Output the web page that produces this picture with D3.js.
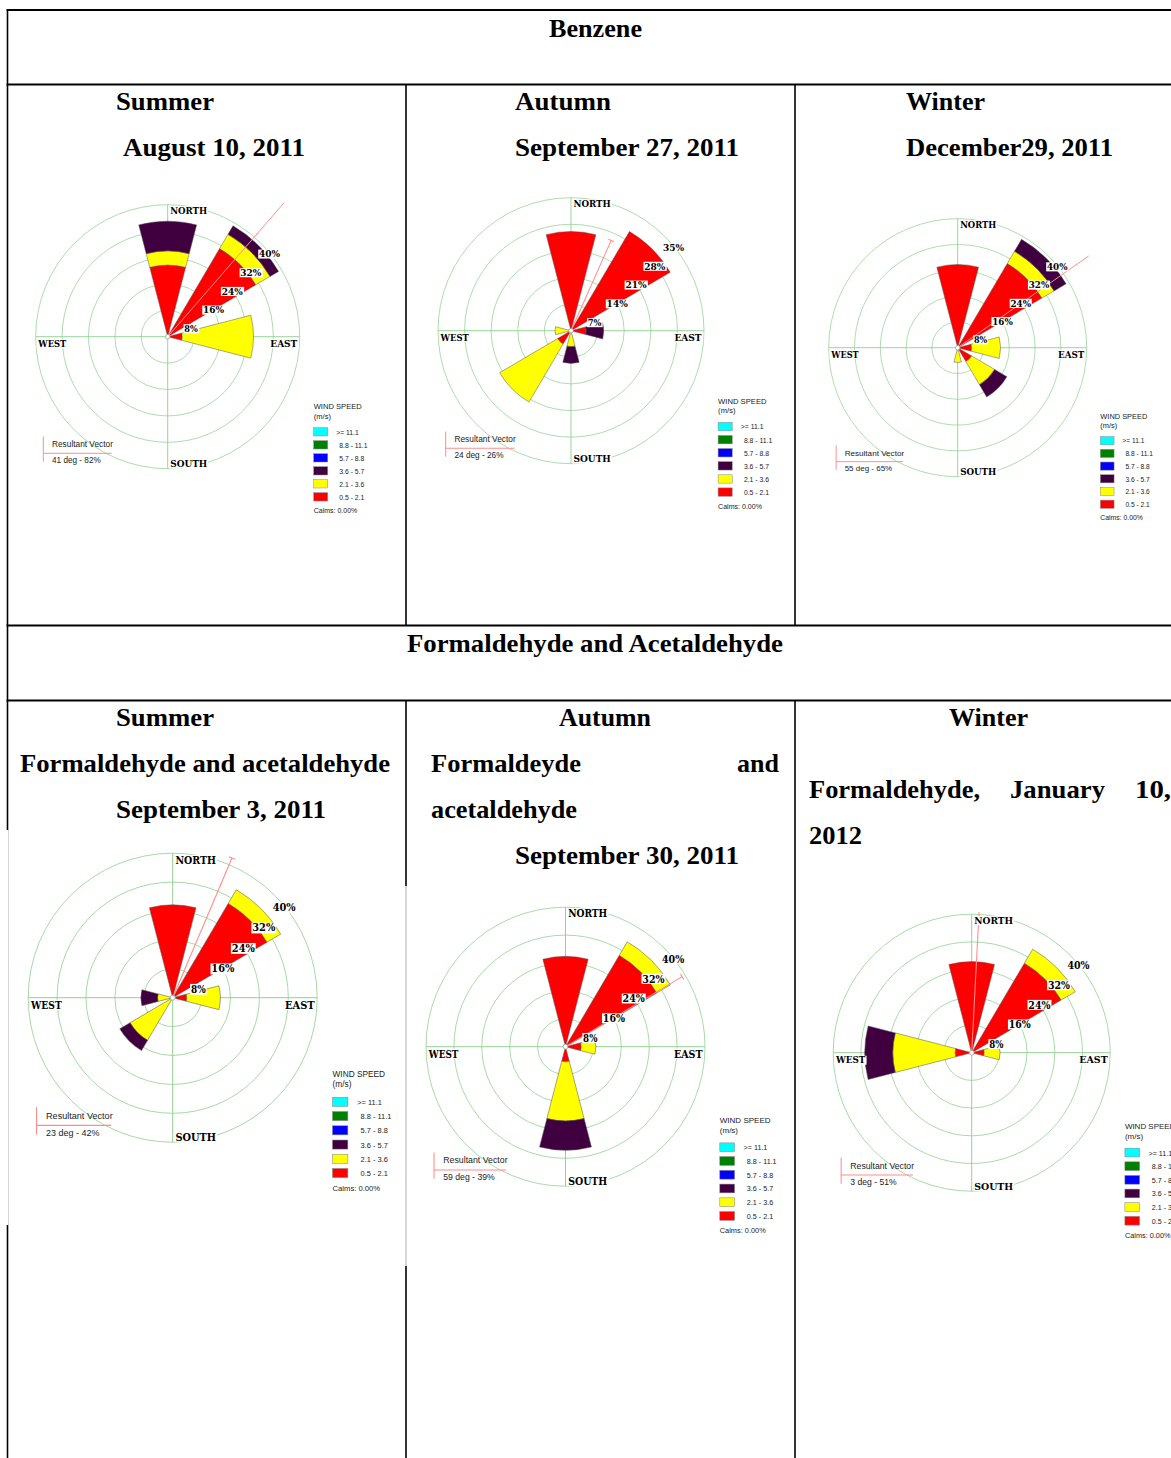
<!DOCTYPE html>
<html>
<head>
<meta charset="utf-8">
<script src="https://cdn.jsdelivr.net/npm/d3@7"></script>
<style>
  body { margin: 0; background: #fff; }
  svg { display: block; }
</style>
</head>
<body>
<svg id="page" width="1171" height="1458"></svg>
<script>
// 8 sectors, bearing clockwise from north
var directions = ["N", "NE", "E", "SE", "S", "SW", "W", "NW"];
var bearings = [0, 45, 90, 135, 180, 225, 270, 315];

// speed classes, slowest first (legend lists them fastest first)
var speedClasses = ["0.5 - 2.1", "2.1 - 3.6", "3.6 - 5.7", "5.7 - 8.8", "8.8 - 11.1", ">= 11.1"];
var speedColors = ["#ff0000", "#ffff00", "#400040", "#0000ff", "#008000", "#00ffff"];

// frequency % by class (rows 0.5-2.1, 2.1-3.6, 3.6-5.7) and direction (N..NW)
// the faster classes are 0 everywhere so they are left out
var benzAug10 = [
  [21.7, 31.0, 4.4, 0, 0, 0, 0, 0],
  [4.3, 5.0, 21.6, 0, 0, 0, 0, 0],
  [9.0, 3.0, 0, 0, 0, 0, 0, 0]
];
var benzSep27 = [
  [26.1, 30.3, 4.0, 0, 0, 4.1, 0, 0],
  [0, 0, 0, 0, 4.2, 17.7, 4.2, 0],
  [0, 0, 4.6, 0, 4.4, 0, 0, 0]
];
var benzDec29 = [
  [25.8, 30.3, 4.3, 5.0, 0, 0, 0, 0],
  [0, 4.4, 9.0, 8.3, 4.6, 0, 0, 0],
  [0, 4.3, 0, 4.4, 0, 0, 0, 0]
];
var aldSep03 = [
  [25.7, 30.3, 3.9, 0, 0, 0, 0, 0],
  [0, 4.4, 9.3, 0, 0, 13.7, 4.2, 0],
  [0, 0, 0, 0, 0, 3.3, 4.6, 0]
];
var aldSep30 = [
  [25.9, 30.4, 4.5, 0, 4.3, 0, 0, 0],
  [0, 4.5, 4.2, 0, 17.0, 0, 0, 0],
  [0, 0, 0, 0, 8.4, 0, 0, 0]
];
var aldJan10 = [
  [26.3, 30.0, 3.6, 0, 0, 0, 4.8, 0],
  [0, 4.7, 4.6, 0, 0, 0, 18.0, 0],
  [0, 0, 0, 0, 0, 0, 8.1, 0]
];

var roseData = [benzAug10, benzSep27, benzDec29, aldSep03, aldSep30, aldJan10];
var ringStep = [8, 7, 8, 8, 8, 8];        // % per ring, 5 rings
var resultDeg = [41, 24, 55, 23, 59, 3];
var resultPct = [82, 26, 65, 42, 39, 51];
var calms = [0, 0, 0, 0, 0, 0];

// where each pasted rose sits in the table (centre and outer ring radius)
var roseLayout = [
  { cx: 167.7, cy: 336.7, R: 132 },
  { cx: 571.0, cy: 330.7, R: 133 },
  { cx: 957.7, cy: 347.7, R: 129 },
  { cx: 172.7, cy: 997.7, R: 144.5 },
  { cx: 565.5, cy: 1046.7, R: 139.5 },
  { cx: 971.7, cy: 1052.7, R: 138.5 }
];

var R0 = 132;   // rose drawn at this radius then scaled
var svg = d3.select("#page");
svg.append("rect").attr("width", 1171).attr("height", 1458).attr("fill", "#fff");

drawTable();
roseData.forEach(function(d, i) {
  drawRose(i);
});

function drawTable() {
  var t = svg.append("g").attr("stroke", "#000");
  // horizontal rules
  [10, 84.5, 625.5, 700.5].forEach(function(y) {
    t.append("line").attr("x1", 6.5).attr("x2", 1171).attr("y1", y).attr("y2", y).attr("stroke-width", 2);
  });
  // left border, hidden where the summer image covers it
  t.append("line").attr("x1", 7.5).attr("x2", 7.5).attr("y1", 10).attr("y2", 830).attr("stroke-width", 1.6);
  t.append("line").attr("x1", 7.5).attr("x2", 7.5).attr("y1", 1225).attr("y2", 1458).attr("stroke-width", 1.6);
  t.append("line").attr("x1", 8.5).attr("x2", 8.5).attr("y1", 830).attr("y2", 1225).attr("stroke", "#ccc").attr("stroke-width", 0.8);
  [406, 795].forEach(function(x) {
    t.append("line").attr("x1", x).attr("x2", x).attr("y1", 85).attr("y2", 625).attr("stroke-width", 1.6);
  });
  t.append("line").attr("x1", 406).attr("x2", 406).attr("y1", 700).attr("y2", 886).attr("stroke-width", 1.6);
  t.append("line").attr("x1", 406).attr("x2", 406).attr("y1", 886).attr("y2", 1266).attr("stroke", "#999").attr("stroke-width", 0.8);
  t.append("line").attr("x1", 406).attr("x2", 406).attr("y1", 1266).attr("y2", 1458).attr("stroke-width", 1.6);
  t.append("line").attr("x1", 795).attr("x2", 795).attr("y1", 700).attr("y2", 1458).attr("stroke-width", 1.6);

  var heads = [
    ["Benzene", 549, 36.5, 93],
    ["Summer", 116, 110, 98],
    ["August 10, 2011", 123, 156, 182],
    ["Autumn", 515, 110, 96],
    ["September 27, 2011", 515, 156, 224],
    ["Winter", 906, 110, 79],
    ["December29, 2011", 906, 156, 207],
    ["Formaldehyde and Acetaldehyde", 407, 652, 376],
    ["Summer", 116, 726, 98],
    ["Formaldehyde and acetaldehyde", 20, 772, 370],
    ["September 3, 2011", 116, 817.5, 210],
    ["Autumn", 559, 726, 92],
    ["Formaldeyde", 431, 772, 150],
    ["and", 737, 772, 42],
    ["acetaldehyde", 431, 818, 146],
    ["September 30, 2011", 515, 863.5, 224],
    ["Winter", 949, 726, 79],
    ["Formaldehyde,", 809, 798, 171],
    ["January", 1010, 798, 95],
    ["10,", 1135, 798, 36],
    ["2012", 809, 844, 53]
  ];
  svg.append("g").selectAll("text").data(heads).join("text")
    .attr("x", function(d) { return d[1]; })
    .attr("y", function(d) { return d[2]; })
    .attr("textLength", function(d) { return d[3]; })
    .attr("lengthAdjust", "spacingAndGlyphs")
    .attr("font-family", "'Liberation Serif', 'Times New Roman', serif")
    .attr("font-weight", "bold")
    .attr("font-size", 25)
    .text(function(d) { return d[0]; });
}

function boxedText(g, txt, x, y, anchor, len, size) {
  var t = g.append("text")
    .attr("x", x).attr("y", y)
    .attr("text-anchor", anchor)
    .attr("font-family", "'DejaVu Serif', serif")
    .attr("font-weight", "bold")
    .attr("font-size", size)
    .attr("textLength", len)
    .attr("lengthAdjust", "spacingAndGlyphs")
    .text(txt);
  var bb = t.node().getBBox();
  g.insert("rect", function() { return t.node(); })
    .attr("x", bb.x - 0.8).attr("y", bb.y + 1.2)
    .attr("width", bb.width + 1.6).attr("height", bb.height - 2)
    .attr("fill", "#fff");
  return t;
}

function drawRose(i) {
  var L = roseLayout[i];
  var freq = roseData[i];
  var step = ringStep[i];
  var s = L.R / R0;
  var g = svg.append("g").attr("transform", "translate(" + L.cx + "," + L.cy + ") scale(" + s + ")");

  var clipId = "clip" + i;
  g.append("clipPath").attr("id", clipId)
    .append("rect").attr("x", -R0 - 2).attr("y", -R0 - 2).attr("width", 2 * R0 + 4).attr("height", 2 * R0 + 4);
  var rose = g.append("g").attr("clip-path", "url(#" + clipId + ")");

  var r = d3.scaleLinear().domain([0, step * 5]).range([0, R0]);
  var rings = d3.range(1, 6).map(function(k) { return k * step; });

  rose.selectAll("circle.ring").data(rings).join("circle")
    .attr("class", "ring")
    .attr("r", function(d) { return r(d); })
    .attr("fill", "none").attr("stroke", "#a3d9a3").attr("stroke-width", 0.9);
  rose.append("line").attr("x1", -R0).attr("x2", R0).attr("y1", 0).attr("y2", 0)
    .attr("stroke", "#8fcf8f").attr("stroke-width", 0.9);
  rose.append("line").attr("y1", -R0).attr("y2", R0).attr("x1", 0).attr("x2", 0)
    .attr("stroke", "#8fcf8f").attr("stroke-width", 0.9);

  // stacked wedges
  var half = 14.5 * Math.PI / 180;
  var arc = d3.arc();
  var segs = [];
  bearings.forEach(function(b, j) {
    var cum = 0;
    freq.forEach(function(row, k) {
      var v = row[j];
      if (v > 0) {
        segs.push({ a: b * Math.PI / 180, r0: cum, r1: cum + v, k: k });
        cum += v;
      }
    });
  });
  rose.selectAll("path.wedge").data(segs).join("path")
    .attr("class", "wedge")
    .attr("d", function(d) {
      return arc({ innerRadius: r(d.r0), outerRadius: r(d.r1), startAngle: d.a - half, endAngle: d.a + half });
    })
    .attr("fill", function(d) { return speedColors[d.k]; })
    .attr("stroke", "#555").attr("stroke-width", 0.5);

  // resultant vector
  var ang = resultDeg[i] * Math.PI / 180;
  var len = r(resultPct[i]);
  var ex = len * Math.sin(ang), ey = -len * Math.cos(ang);
  rose.append("line").attr("x1", 0).attr("y1", 0).attr("x2", ex).attr("y2", ey)
    .attr("stroke", "#ff8c8c").attr("stroke-width", 1);
  rose.append("line")
    .attr("x1", ex - 3 * Math.cos(ang)).attr("y1", ey - 3 * Math.sin(ang))
    .attr("x2", ex + 3 * Math.cos(ang)).attr("y2", ey + 3 * Math.sin(ang))
    .attr("stroke", "#ff8c8c").attr("stroke-width", 1);

  rose.append("circle").attr("r", 2.3).attr("fill", "#fff").attr("stroke", "#999").attr("stroke-width", 0.7);

  // compass labels
  boxedText(rose, "NORTH", 2.5, -122.5, "start", 37, 9.6);
  boxedText(rose, "SOUTH", 2.5, 130.7, "start", 37, 9.6);
  boxedText(rose, "WEST", -129.4, 10.3, "start", 28, 9.6);
  boxedText(rose, "EAST", 129.6, 10.3, "end", 27, 9.6);

  // ring percentages along the NE diagonal
  rings.forEach(function(p) {
    var q = r(p) * Math.SQRT1_2;
    var txt = p + "%";
    boxedText(rose, txt, q - 2, -q + 14, "start", txt.length > 2 ? 21 : 13.5, 9.8);
  });

  // wind speed legend
  var lg = g.append("g").attr("font-family", "'Liberation Sans', Arial, sans-serif").attr("fill", "#222");
  lg.append("text").attr("x", 146).attr("y", 72.6).attr("font-size", 7.6).text("WIND SPEED");
  lg.append("text").attr("x", 146).attr("y", 82).attr("font-size", 7.6).text("(m/s)");
  var order = d3.range(speedClasses.length).reverse();
  order.forEach(function(k, n) {
    var y = 91 + 13 * n;
    lg.append("rect").attr("x", 146).attr("y", y).attr("width", 14).attr("height", 8.3)
      .attr("fill", speedColors[k]).attr("stroke", "#888").attr("stroke-width", 0.5);
    lg.append("text").attr("x", n === 0 ? 168.5 : 171.6).attr("y", y + 7)
      .attr("font-size", 6.8).text(speedClasses[k]);
  });
  lg.append("text").attr("x", 146).attr("y", 176.6).attr("font-size", 7)
    .text("Calms: " + calms[i].toFixed(2) + "%");

  // resultant vector note
  var rv = g.append("g");
  rv.append("line").attr("x1", -124.4).attr("x2", -124.4).attr("y1", 100).attr("y2", 125)
    .attr("stroke", "#ff8c8c").attr("stroke-width", 1);
  rv.append("line").attr("x1", -124.4).attr("x2", -56).attr("y1", 116.6).attr("y2", 116.6)
    .attr("stroke", "#ff8c8c").attr("stroke-width", 1);
  rv.append("text").attr("x", -115.7).attr("y", 110.5)
    .attr("font-family", "'Liberation Sans', Arial, sans-serif").attr("font-size", 8.3).attr("fill", "#222")
    .text("Resultant Vector");
  rv.append("text").attr("x", -115.7).attr("y", 126.5)
    .attr("font-family", "'Liberation Sans', Arial, sans-serif").attr("font-size", 8.2).attr("fill", "#222")
    .text(resultDeg[i] + " deg - " + resultPct[i] + "%");
}
</script>
</body>
</html>
